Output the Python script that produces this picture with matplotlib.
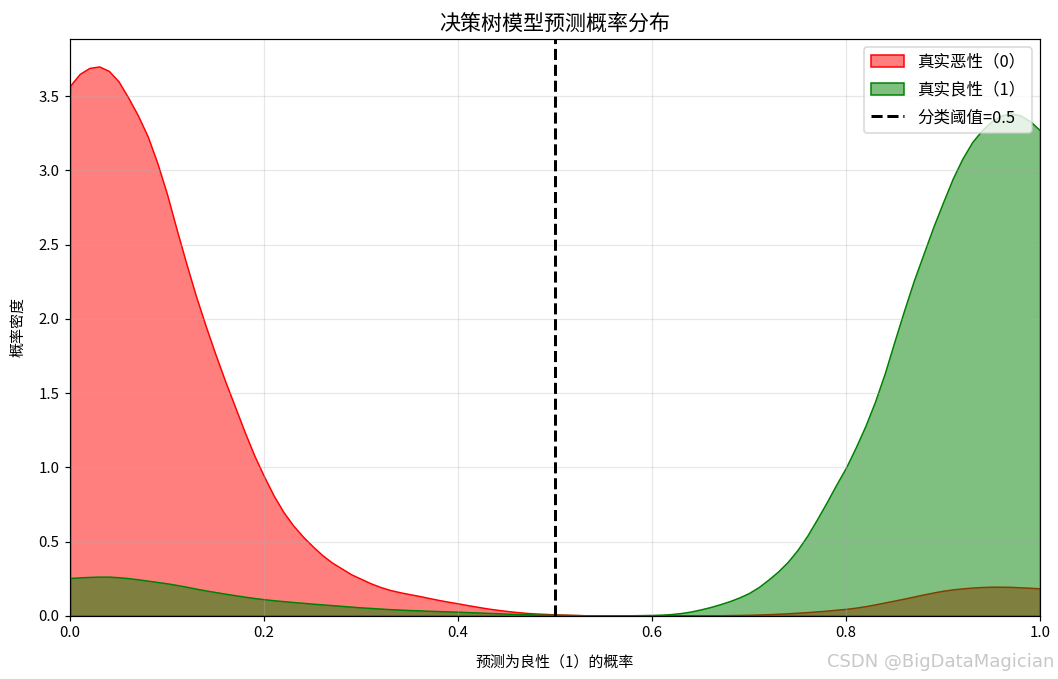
import numpy as np
import matplotlib
matplotlib.use("Agg")
import matplotlib.pyplot as plt

plt.rcParams['font.family'] = ['Noto Sans CJK SC', 'DejaVu Sans']
plt.rcParams['axes.unicode_minus'] = False

# predicted probability grid (step 0.01) and densities
prob = np.round(np.arange(0, 1.0001, 0.01), 2)
dens_malignant = [3.57, 3.65, 3.69, 3.70, 3.67, 3.60, 3.49, 3.37, 3.23, 3.05,
                  2.84, 2.60, 2.37, 2.15, 1.95, 1.76, 1.58, 1.41, 1.24, 1.08,
                  0.94, 0.81, 0.70, 0.61, 0.535, 0.47, 0.41, 0.36, 0.32, 0.28,
                  0.25, 0.22, 0.195, 0.175, 0.16, 0.147, 0.135, 0.121, 0.108, 0.096,
                  0.085, 0.073, 0.062, 0.051, 0.042, 0.034, 0.027, 0.021, 0.017, 0.014,
                  0.011, 0.009, 0.007, 0.005, 0.004, 0.003, 0.003, 0.003, 0.003, 0.003,
                  0.003, 0.003, 0.003, 0.003, 0.004, 0.004, 0.005, 0.005, 0.006, 0.007,
                  0.008, 0.010, 0.012, 0.015, 0.018, 0.022, 0.026, 0.031, 0.036, 0.042,
                  0.048, 0.056, 0.066, 0.078, 0.091, 0.104, 0.117, 0.131, 0.145, 0.158,
                  0.170, 0.179, 0.186, 0.191, 0.195, 0.197, 0.197, 0.196, 0.193, 0.190,
                  0.186]
dens_benign = [0.256, 0.260, 0.263, 0.265, 0.265, 0.261, 0.255, 0.247, 0.238, 0.229,
               0.220, 0.209, 0.197, 0.184, 0.172, 0.161, 0.150, 0.140, 0.130, 0.121,
               0.113, 0.106, 0.100, 0.094, 0.089, 0.083, 0.078, 0.073, 0.068, 0.063,
               0.058, 0.054, 0.050, 0.046, 0.043, 0.040, 0.038, 0.035, 0.033, 0.031,
               0.029, 0.026, 0.024, 0.021, 0.019, 0.016, 0.014, 0.012, 0.010, 0.009,
               0.008, 0.007, 0.006, 0.005, 0.005, 0.005, 0.005, 0.005, 0.005, 0.006,
               0.007, 0.009, 0.013, 0.020, 0.030, 0.044, 0.060, 0.079, 0.100, 0.125,
               0.155, 0.195, 0.245, 0.300, 0.365, 0.445, 0.540, 0.650, 0.765, 0.885,
               1.000, 1.135, 1.280, 1.445, 1.635, 1.850, 2.060, 2.260, 2.440, 2.620,
               2.785, 2.945, 3.080, 3.190, 3.270, 3.330, 3.370, 3.385, 3.370, 3.330,
               3.270]
threshold = 0.5

fig = plt.figure(figsize=(1058 / 108, 679 / 108), dpi=108)
ax = fig.add_subplot(111)
fig.subplots_adjust(left=0.0662, right=0.983, bottom=0.0928, top=0.9426)

ax.fill_between(prob, dens_malignant, facecolor=(1, 0, 0, 0.5), edgecolor='red',
                linewidth=1, label='真实恶性（0）')
ax.fill_between(prob, dens_benign, facecolor=(0, 0.5, 0, 0.5), edgecolor='green',
                linewidth=1, label='真实良性（1）')
ax.axvline(threshold, color='black', linestyle='--', linewidth=2, label='分类阈值=0.5')

ax.set_xlim(0, 1)
ax.set_ylim(0, max(max(dens_malignant), max(dens_benign)) * 1.05)
ax.set_title('决策树模型预测概率分布', fontsize=14)
ax.set_xlabel('预测为良性（1）的概率', fontsize=10, labelpad=10)
ax.set_ylabel('概率密度', fontsize=10, labelpad=9)
ax.grid(alpha=0.3)
ax.legend(loc='upper right', fontsize=11, labelspacing=0.65)

fig.text(0.997, 0.012, 'CSDN @BigDataMagician', ha='right', va='bottom',
         fontsize=12, color='#c8c8c8', family=['DejaVu Sans'])

fig.savefig('out.png', dpi=108)
